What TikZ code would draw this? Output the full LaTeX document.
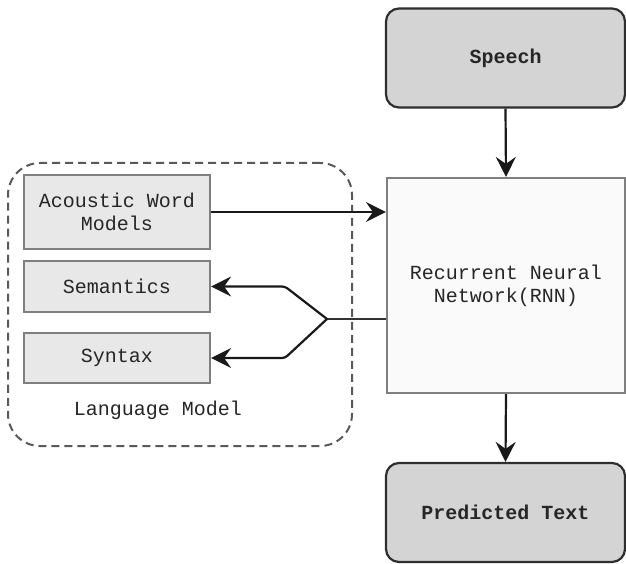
\documentclass[tikz,border=0pt]{standalone}
\usepackage{fontspec}
\setmonofont{Liberation Mono}
\usetikzlibrary{arrows.meta}
\definecolor{darkfill}{HTML}{D4D4D4}
\definecolor{lightfill}{HTML}{E8E8E8}
\definecolor{rnnfill}{HTML}{FAFAFA}
\definecolor{boxline}{HTML}{7F7F7F}
\definecolor{darkline}{HTML}{2E2E2E}
\begin{document}
\begin{tikzpicture}[x=1pt,y=-1pt,
  txt/.style={font=\ttfamily\fontsize{20}{23}\selectfont, text=black!85, align=center},
  termbox/.style={txt, draw=darkline, line width=2.2pt, fill=darkfill, rounded corners=13pt, minimum width=239pt, minimum height=99pt, inner sep=0pt},
  rnnbox/.style={txt, draw=boxline, line width=2.2pt, fill=rnnfill, minimum width=238pt, minimum height=215pt, inner sep=0pt},
  lmbox/.style={txt, draw=boxline, line width=2.2pt, fill=lightfill, minimum width=186pt, inner sep=0pt},
  conn/.style={draw=black!90, line width=2.2pt, -{Stealth[length=20pt,width=20pt,inset=7pt]}},
  plain/.style={draw=black!80, line width=2.2pt}
]
\useasboundingbox (0,0) rectangle (626,564);
\node[draw=black!65, dashed, dash pattern=on 8pt off 5pt, line width=2pt, rounded corners=32pt, minimum width=344pt, minimum height=283pt, inner sep=0pt] (LM) at (180,304.5) {};
\node[termbox] (Speech) at (505.5,58) {\textbf{Speech}};
\node[rnnbox] (RNN) at (506,285.5) {Recurrent Neural\\Network(RNN)};
\node[termbox] (Pred) at (505.5,512.5) {\textbf{Predicted Text}};
\node[lmbox, minimum height=74pt] (Acoustic) at (117,212) {Acoustic Word\\Models};
\node[lmbox, minimum height=51pt] (Sem) at (117,286.5) {Semantics};
\node[lmbox, minimum height=50pt] (Syn) at (117,358) {Syntax};
\node[txt] (LMlabel) at (158,410) {Language Model};
\draw[conn] (Speech.south) -- (RNN.north);
\draw[conn] (RNN.south) -- (Pred.north);
\draw[conn] (Acoustic.east) -- (Acoustic.east -| RNN.west);
\coordinate (j) at (327,319);
\coordinate (up) at (285,286.5);
\coordinate (dn) at (285,358);
\draw[plain] (RNN.west |- j) -- (j);
\draw[conn, rounded corners=3pt] (j) -- (up) -- (Sem.east);
\draw[conn, rounded corners=3pt] (j) -- (dn) -- (Syn.east);
\end{tikzpicture}
\end{document}
